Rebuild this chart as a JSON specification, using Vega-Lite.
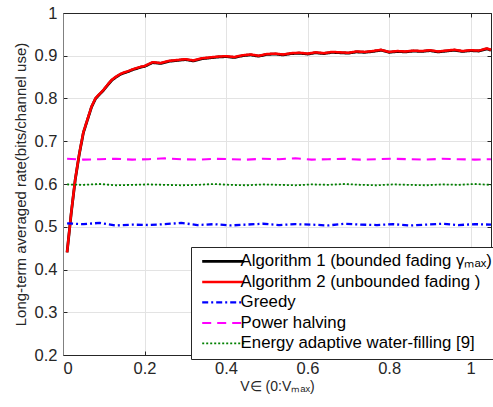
{
  "$schema": "https://vega.github.io/schema/vega-lite/v6.json",
  "width": 428,
  "height": 342,
  "autosize": {"type": "none"},
  "padding": {"left": 63, "top": 13, "right": 2, "bottom": 52},
  "background": "white",
  "config": {
    "font": "Liberation Sans",
    "view": {"stroke": "#262626", "strokeWidth": 1},
    "axis": {
      "labelFont": "Liberation Sans",
      "labelFontSize": 16.5,
      "labelColor": "#262626",
      "titleFont": "Liberation Sans",
      "titleFontSize": 13,
      "titleColor": "#262626",
      "titleFontWeight": "normal",
      "gridColor": "#e3e3e3",
      "gridWidth": 1,
      "tickColor": "#262626",
      "tickSize": -4,
      "domainColor": "#262626"
    }
  },
  "data": {
    "values": [
      {"s":"a1","x":0.01,"y":0.44},{"s":"a1","x":0.02,"y":0.53},{"s":"a1","x":0.03,"y":0.61},{"s":"a1","x":0.04,"y":0.67},{"s":"a1","x":0.05,"y":0.72},{"s":"a1","x":0.06,"y":0.75},{"s":"a1","x":0.07,"y":0.78},{"s":"a1","x":0.08,"y":0.80},{"s":"a1","x":0.09,"y":0.81},{"s":"a1","x":0.10,"y":0.82},{"s":"a1","x":0.11,"y":0.832},{"s":"a1","x":0.12,"y":0.843},{"s":"a1","x":0.13,"y":0.85},{"s":"a1","x":0.14,"y":0.856},{"s":"a1","x":0.15,"y":0.86},{"s":"a1","x":0.16,"y":0.863},{"s":"a1","x":0.17,"y":0.867},{"s":"a1","x":0.18,"y":0.87},{"s":"a1","x":0.19,"y":0.873},{"s":"a1","x":0.20,"y":0.875},
      {"s":"a1","x":0.22,"y":0.884},{"s":"a1","x":0.24,"y":0.882},{"s":"a1","x":0.26,"y":0.887},{"s":"a1","x":0.28,"y":0.889},{"s":"a1","x":0.30,"y":0.891},{"s":"a1","x":0.32,"y":0.888},{"s":"a1","x":0.34,"y":0.893},{"s":"a1","x":0.36,"y":0.895},{"s":"a1","x":0.38,"y":0.897},{"s":"a1","x":0.40,"y":0.898},{"s":"a1","x":0.42,"y":0.896},{"s":"a1","x":0.44,"y":0.900},{"s":"a1","x":0.46,"y":0.902},{"s":"a1","x":0.48,"y":0.899},{"s":"a1","x":0.50,"y":0.903},{"s":"a1","x":0.52,"y":0.904},{"s":"a1","x":0.54,"y":0.902},{"s":"a1","x":0.56,"y":0.905},{"s":"a1","x":0.58,"y":0.906},{"s":"a1","x":0.60,"y":0.904},{"s":"a1","x":0.62,"y":0.907},{"s":"a1","x":0.64,"y":0.905},{"s":"a1","x":0.66,"y":0.908},{"s":"a1","x":0.68,"y":0.907},{"s":"a1","x":0.70,"y":0.906},{"s":"a1","x":0.72,"y":0.909},{"s":"a1","x":0.74,"y":0.908},{"s":"a1","x":0.76,"y":0.910},{"s":"a1","x":0.78,"y":0.913},{"s":"a1","x":0.80,"y":0.908},{"s":"a1","x":0.82,"y":0.910},{"s":"a1","x":0.84,"y":0.909},{"s":"a1","x":0.86,"y":0.911},{"s":"a1","x":0.88,"y":0.910},{"s":"a1","x":0.90,"y":0.912},{"s":"a1","x":0.92,"y":0.909},{"s":"a1","x":0.94,"y":0.911},{"s":"a1","x":0.96,"y":0.913},{"s":"a1","x":0.98,"y":0.910},{"s":"a1","x":1.00,"y":0.912},{"s":"a1","x":1.02,"y":0.911},{"s":"a1","x":1.04,"y":0.916},{"s":"a1","x":1.05,"y":0.913},
      {"s":"a2","x":0.01,"y":0.44},{"s":"a2","x":0.02,"y":0.531},{"s":"a2","x":0.03,"y":0.611},{"s":"a2","x":0.04,"y":0.671},{"s":"a2","x":0.05,"y":0.721},{"s":"a2","x":0.06,"y":0.751},{"s":"a2","x":0.07,"y":0.781},{"s":"a2","x":0.08,"y":0.801},{"s":"a2","x":0.09,"y":0.811},{"s":"a2","x":0.10,"y":0.821},{"s":"a2","x":0.11,"y":0.833},{"s":"a2","x":0.12,"y":0.844},{"s":"a2","x":0.13,"y":0.851},{"s":"a2","x":0.14,"y":0.857},{"s":"a2","x":0.15,"y":0.861},{"s":"a2","x":0.16,"y":0.864},{"s":"a2","x":0.17,"y":0.868},{"s":"a2","x":0.18,"y":0.871},{"s":"a2","x":0.19,"y":0.874},{"s":"a2","x":0.20,"y":0.876},
      {"s":"a2","x":0.22,"y":0.885},{"s":"a2","x":0.24,"y":0.883},{"s":"a2","x":0.26,"y":0.888},{"s":"a2","x":0.28,"y":0.890},{"s":"a2","x":0.30,"y":0.892},{"s":"a2","x":0.32,"y":0.889},{"s":"a2","x":0.34,"y":0.894},{"s":"a2","x":0.36,"y":0.896},{"s":"a2","x":0.38,"y":0.898},{"s":"a2","x":0.40,"y":0.899},{"s":"a2","x":0.42,"y":0.897},{"s":"a2","x":0.44,"y":0.901},{"s":"a2","x":0.46,"y":0.903},{"s":"a2","x":0.48,"y":0.900},{"s":"a2","x":0.50,"y":0.904},{"s":"a2","x":0.52,"y":0.905},{"s":"a2","x":0.54,"y":0.903},{"s":"a2","x":0.56,"y":0.906},{"s":"a2","x":0.58,"y":0.907},{"s":"a2","x":0.60,"y":0.905},{"s":"a2","x":0.62,"y":0.908},{"s":"a2","x":0.64,"y":0.906},{"s":"a2","x":0.66,"y":0.909},{"s":"a2","x":0.68,"y":0.908},{"s":"a2","x":0.70,"y":0.907},{"s":"a2","x":0.72,"y":0.910},{"s":"a2","x":0.74,"y":0.909},{"s":"a2","x":0.76,"y":0.911},{"s":"a2","x":0.78,"y":0.914},{"s":"a2","x":0.80,"y":0.909},{"s":"a2","x":0.82,"y":0.911},{"s":"a2","x":0.84,"y":0.910},{"s":"a2","x":0.86,"y":0.912},{"s":"a2","x":0.88,"y":0.911},{"s":"a2","x":0.90,"y":0.913},{"s":"a2","x":0.92,"y":0.910},{"s":"a2","x":0.94,"y":0.912},{"s":"a2","x":0.96,"y":0.914},{"s":"a2","x":0.98,"y":0.911},{"s":"a2","x":1.00,"y":0.913},{"s":"a2","x":1.02,"y":0.912},{"s":"a2","x":1.04,"y":0.917},{"s":"a2","x":1.05,"y":0.914},
      {"s":"g","x":0.01,"y":0.508},{"s":"g","x":0.05,"y":0.506},{"s":"g","x":0.09,"y":0.509},{"s":"g","x":0.13,"y":0.503},{"s":"g","x":0.17,"y":0.505},{"s":"g","x":0.21,"y":0.504},{"s":"g","x":0.25,"y":0.506},{"s":"g","x":0.29,"y":0.509},{"s":"g","x":0.33,"y":0.504},{"s":"g","x":0.37,"y":0.506},{"s":"g","x":0.41,"y":0.503},{"s":"g","x":0.45,"y":0.505},{"s":"g","x":0.49,"y":0.507},{"s":"g","x":0.53,"y":0.504},{"s":"g","x":0.57,"y":0.506},{"s":"g","x":0.61,"y":0.505},{"s":"g","x":0.65,"y":0.503},{"s":"g","x":0.69,"y":0.507},{"s":"g","x":0.73,"y":0.505},{"s":"g","x":0.77,"y":0.504},{"s":"g","x":0.81,"y":0.506},{"s":"g","x":0.85,"y":0.503},{"s":"g","x":0.89,"y":0.505},{"s":"g","x":0.93,"y":0.507},{"s":"g","x":0.97,"y":0.504},{"s":"g","x":1.01,"y":0.506},{"s":"g","x":1.05,"y":0.505},
      {"s":"p","x":0.01,"y":0.659},{"s":"p","x":0.05,"y":0.657},{"s":"p","x":0.09,"y":0.658},{"s":"p","x":0.13,"y":0.659},{"s":"p","x":0.17,"y":0.657},{"s":"p","x":0.21,"y":0.658},{"s":"p","x":0.25,"y":0.660},{"s":"p","x":0.29,"y":0.658},{"s":"p","x":0.33,"y":0.657},{"s":"p","x":0.37,"y":0.659},{"s":"p","x":0.41,"y":0.658},{"s":"p","x":0.45,"y":0.657},{"s":"p","x":0.49,"y":0.659},{"s":"p","x":0.53,"y":0.658},{"s":"p","x":0.57,"y":0.660},{"s":"p","x":0.61,"y":0.657},{"s":"p","x":0.65,"y":0.658},{"s":"p","x":0.69,"y":0.659},{"s":"p","x":0.73,"y":0.657},{"s":"p","x":0.77,"y":0.658},{"s":"p","x":0.81,"y":0.659},{"s":"p","x":0.85,"y":0.658},{"s":"p","x":0.89,"y":0.657},{"s":"p","x":0.93,"y":0.659},{"s":"p","x":0.97,"y":0.658},{"s":"p","x":1.01,"y":0.657},{"s":"p","x":1.05,"y":0.658},
      {"s":"e","x":0.01,"y":0.599},{"s":"e","x":0.05,"y":0.598},{"s":"e","x":0.09,"y":0.600},{"s":"e","x":0.13,"y":0.597},{"s":"e","x":0.17,"y":0.598},{"s":"e","x":0.21,"y":0.599},{"s":"e","x":0.25,"y":0.598},{"s":"e","x":0.29,"y":0.597},{"s":"e","x":0.33,"y":0.598},{"s":"e","x":0.37,"y":0.600},{"s":"e","x":0.41,"y":0.598},{"s":"e","x":0.45,"y":0.597},{"s":"e","x":0.49,"y":0.599},{"s":"e","x":0.53,"y":0.598},{"s":"e","x":0.57,"y":0.597},{"s":"e","x":0.61,"y":0.599},{"s":"e","x":0.65,"y":0.598},{"s":"e","x":0.69,"y":0.600},{"s":"e","x":0.73,"y":0.598},{"s":"e","x":0.77,"y":0.597},{"s":"e","x":0.81,"y":0.599},{"s":"e","x":0.85,"y":0.598},{"s":"e","x":0.89,"y":0.597},{"s":"e","x":0.93,"y":0.599},{"s":"e","x":0.97,"y":0.598},{"s":"e","x":1.01,"y":0.600},{"s":"e","x":1.05,"y":0.598}
    ]
  },
  "layer": [
    {
      "mark": {"type": "line", "strokeCap": "butt", "strokeJoin": "round"},
      "encoding": {
        "x": {
          "field": "x", "type": "quantitative",
          "scale": {"domain": [0, 1.05], "nice": false, "zero": false},
          "axis": {"values": [0, 0.2, 0.4, 0.6, 0.8, 1], "format": ".1~f", "title": "V∈ (0:Vₘₐₓ)", "titleFontSize": 14, "labelPadding": 9, "titlePadding": 3, "grid": true}
        },
        "y": {
          "field": "y", "type": "quantitative",
          "scale": {"domain": [0.2, 1], "nice": false, "zero": false},
          "axis": {"values": [0.2, 0.3, 0.4, 0.5, 0.6, 0.7, 0.8, 0.9, 1], "format": ".1~f", "title": "Long-term averaged rate(bits/channel use)", "titleFontSize": 15, "labelPadding": 10, "titlePadding": 6, "grid": true, "domainColor": "#808080"}
        },
        "color": {
          "field": "s", "type": "nominal",
          "scale": {"domain": ["a1", "a2", "g", "p", "e"], "range": ["#000000", "#ff0000", "#0000ff", "#ff00ff", "#008000"]},
          "legend": {
            "orient": "none", "legendX": 128, "legendY": 234, "title": null,
            "labelExpr": "{'a1':'Algorithm 1 (bounded fading γₘₐₓ)','a2':'Algorithm 2 (unbounded fading )','g':'Greedy','p':'Power halving','e':'Energy adaptive water-filling [9]'}[datum.value]",
            "labelFont": "Liberation Sans", "labelFontSize": 16.8, "labelColor": "#000000", "labelLimit": 400,
            "symbolType": "M-5,0H5", "symbolSize": 70.56, "symbolOffset": 17.8, "padding": 6, "rowPadding": 2.5, "labelOffset": 9,
            "fillColor": "white", "strokeColor": "#262626"
          }
        },
        "strokeDash": {
          "field": "s", "type": "nominal",
          "scale": {"domain": ["a1", "a2", "g", "p", "e"], "range": [[1, 0], [1, 0], [6, 3, 2, 3], [9, 6], [2, 2]]}
        },
        "strokeWidth": {
          "field": "s", "type": "nominal",
          "scale": {"domain": ["a1", "a2", "g", "p", "e"], "range": [2.8, 1.8, 2, 1.2, 2.5]}
        }
      }
    },
    {
      "mark": {"type": "point", "opacity": 0},
      "encoding": {
        "x": {"field": "x", "type": "quantitative", "axis": {"orient": "top", "values": [0, 0.2, 0.4, 0.6, 0.8, 1], "labels": false, "title": null, "grid": false}},
        "y": {"field": "y", "type": "quantitative", "axis": {"orient": "right", "values": [0.2, 0.3, 0.4, 0.5, 0.6, 0.7, 0.8, 0.9, 1], "labels": false, "title": null, "grid": false}}
      }
    }
  ],
  "resolve": {"axis": {"x": "independent", "y": "independent"}}
}
